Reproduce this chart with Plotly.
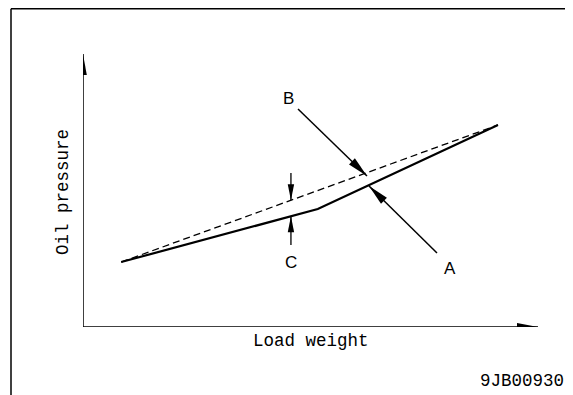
import plotly.graph_objects as go

# ---- data (load weight vs oil pressure, arbitrary units 0-100) ----
load_actual = [8.4, 51.6, 91.2]        # curve A (solid)
pressure_actual = [23.8, 43.2, 74.0]
load_ideal = [8.4, 91.2]               # curve B (dashed)
pressure_ideal = [23.8, 74.0]
x_title = "Load weight"
y_title = "Oil pressure"
code_label = "9JB00930"
c_load = 45.7                          # position of difference marker C

# page has an 8px body margin: the figure sits at (8, 8) in the window
OFF = 8
W, H = 573 - OFF, 395 - OFF
L, T = 83 - OFF, 54 - OFF
R = W - (538 - OFF)
B = H - (327 - OFF)
PW, PH = W - L - R, H - T - B


def px2d(px, py):
    fx, fy = px - OFF, py - OFF
    return (fx - L) / PW * 100, (H - B - fy) / PH * 100


def d2px(x, y):
    return L + x / 100 * PW + OFF, H - B - y / 100 * PH + OFF


def px2paper(px, py):
    fx, fy = px - OFF, py - OFF
    return (fx - L) / PW, (H - B - fy) / PH


def head(tip_d, from_d, length, half):
    tx, ty = d2px(*tip_d)
    fx, fy = d2px(*from_d)
    dx, dy = tx - fx, ty - fy
    n = (dx * dx + dy * dy) ** 0.5
    ux, uy = dx / n, dy / n
    bx, by = tx - ux * length, ty - uy * length
    p1 = px2d(bx - uy * half, by + ux * half)
    p2 = px2d(bx + uy * half, by - ux * half)
    return dict(type="path", xref="x", yref="y",
                path=f"M{tip_d[0]},{tip_d[1]} L{p1[0]},{p1[1]} L{p2[0]},{p2[1]} Z",
                fillcolor="black", line=dict(width=0))


def seg(a, b, w=1.4):
    return dict(type="line", xref="x", yref="y", x0=a[0], y0=a[1], x1=b[0], y1=b[1],
                line=dict(color="black", width=w))


def interp(xs, ys, x):
    for i in range(len(xs) - 1):
        if xs[i] <= x <= xs[i + 1]:
            t = (x - xs[i]) / (xs[i + 1] - xs[i])
            return ys[i] + t * (ys[i + 1] - ys[i])
    return ys[-1]


fig = go.Figure()
fig.add_trace(go.Scatter(x=load_ideal, y=pressure_ideal, mode="lines",
                         line=dict(color="black", width=1.3, dash="7px,4px"),
                         hoverinfo="skip", cliponaxis=False))
fig.add_trace(go.Scatter(x=load_actual, y=pressure_actual, mode="lines",
                         line=dict(color="black", width=2.2), hoverinfo="skip",
                         cliponaxis=False))

shapes = []
# axes with arrows
origin = (0, 0)
shapes.append(seg(origin, (0, 100), 1.5))
shapes.append(seg(origin, (100, 0), 1.5))
shapes.append(head((0, 100), origin, 21, 3.8))
shapes.append(head((100, 0), origin, 21, 4))

# arrow B -> dashed line
b_tail = px2d(298, 109)
b_tip = px2d(367, 176)
shapes.append(seg(b_tail, b_tip, 1.5))
shapes.append(head(b_tip, b_tail, 21, 4.2))
# arrow A -> solid line
a_tail = px2d(437, 253)
a_tip = px2d(369, 186)
shapes.append(seg(a_tail, a_tip, 1.5))
shapes.append(head(a_tip, a_tail, 21, 4.2))

# C marker: difference between lines
c_hi = interp(load_ideal, pressure_ideal, c_load)
c_lo = interp(load_actual, pressure_actual, c_load)
c_top = px2d(0, 173)[1]
c_bot = px2d(0, 245)[1]
shapes.append(seg((c_load, c_top), (c_load, c_hi), 1.3))
shapes.append(seg((c_load, c_bot), (c_load, c_lo), 1.3))
shapes.append(head((c_load, c_hi), (c_load, c_top), 16, 3.2))
shapes.append(head((c_load, c_lo), (c_load, c_bot), 16, 3.2))

# outer frame (paper coords)
fx0, fy0 = px2paper(11, 8.75)
fx1, fy1 = px2paper(575, 397)
shapes.append(dict(type="line", xref="paper", yref="paper", x0=fx0, y0=fy0, x1=fx0, y1=fy1,
                   line=dict(color="black", width=1.5)))
shapes.append(dict(type="line", xref="paper", yref="paper", x0=fx0, y0=fy0, x1=fx1, y1=fy0,
                   line=dict(color="black", width=1.5)))

mono = dict(family="Liberation Mono", size=17.5, color="black")
sans = dict(family="Liberation Sans", size=17, color="black")
ann = []


def text_px(t, px, py, font, xanchor="center", yanchor="middle", **kw):
    x, y = px2paper(px, py)
    ann.append(dict(text=t, x=x, y=y, xref="paper", yref="paper", showarrow=False,
                    font=font, xanchor=xanchor, yanchor=yanchor, **kw))


text_px(y_title, 63, 192, mono, textangle=-90)
text_px(x_title, 311, 341, mono)
text_px(code_label, 566, 381, mono, xanchor="right")
bx, by = px2d(288, 98)
cx_, cy_ = px2d(291, 262)
ax_, ay_ = px2d(450, 268)
for t, x, y in [("B", bx, by), ("C", cx_, cy_), ("A", ax_, ay_)]:
    ann.append(dict(text=t, x=x, y=y, xref="x", yref="y", showarrow=False, font=sans,
                    xanchor="center", yanchor="middle"))
# clipped heading fragment at the top-left
text_px("g", 46, 5, dict(family="Liberation Sans", size=20, color="black"), yanchor="bottom")

fig.update_layout(
    width=W, height=H, margin=dict(l=L, r=R, t=T, b=B),
    paper_bgcolor="white", plot_bgcolor="white", showlegend=False,
    xaxis=dict(range=[0, 100], visible=False, fixedrange=True),
    yaxis=dict(range=[0, 100], visible=False, fixedrange=True),
    shapes=shapes, annotations=ann,
)
fig.write_html("out.html", config={"displayModeBar": False})
